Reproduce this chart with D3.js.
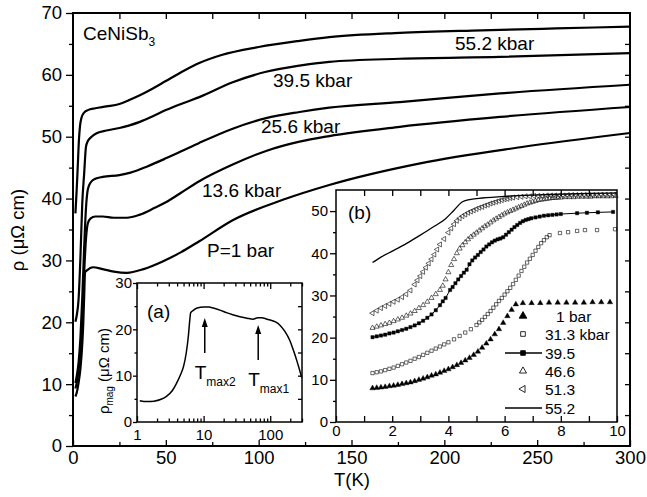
<!DOCTYPE html>
<html>
<head>
<meta charset="utf-8">
<script src="https://cdn.jsdelivr.net/npm/d3@7"></script>
<style>
body { margin: 0; background: #fff; }
.ax path.domain { display: none; }
.ax line { stroke: #000; stroke-width: 1.3; }
</style>
</head>
<body>
<div class="chart"></div>
<script>
const FONT = "'Liberation Sans', Arial, Helvetica, sans-serif";

// main panel: rho(T) at different pressures, [T (K), rho (uOhm cm)]
const MAIN_1BAR = [[1.3,8.0],[2,8.6],[3,10.2],[4,12.5],[5,16.5],[5.5,19.6],[6,24],[6.5,28.1],[7.5,28.4],[10.8,28.9],[16,28.6],[22,28.2],[29,28.0],[38,28.6],[48,29.8],[58,31.3],[68,33.1],[86,36.5],[113,39.8],[138,42.2],[187,45.7],[241,48.3],[300,50.6]];
const MAIN_13_6 = [[1.3,9.3],[2,10.2],[3,12.2],[4,15.5],[5,21],[6,28],[7,33.5],[8,36],[9.5,36.8],[12,37.1],[16,37.1],[22,36.9],[29,36.9],[36,37.4],[44,38.5],[50,39.4],[58,40.9],[68,42.8],[86,45.5],[104,47.7],[122,49.2],[138,50.1],[176,51.6],[230,53.2],[300,54.8]];
const MAIN_25_6 = [[1.3,10.2],[2,11.3],[3,13.5],[4,17.5],[5,24],[6,32],[7,38.5],[8,41.5],[9.5,42.6],[12,43.2],[16,43.5],[25,43.8],[31,44.2],[40,45.2],[50,46.5],[58,47.6],[68,49],[86,51.3],[104,53],[122,54],[138,54.7],[176,55.6],[230,57],[300,58.4]];
const MAIN_39_5 = [[1.3,20.1],[2,21.1],[3,23.7],[4,30.5],[5,39.3],[6,44],[7,48.4],[8,49.3],[10,50.0],[13,50.6],[18,51.0],[25,51.4],[30,51.8],[36,52.4],[43,53.3],[50,54.3],[60,55.5],[68,56.4],[86,58.8],[104,60.5],[122,61.5],[138,62.1],[176,62.6],[230,62.9],[300,63.5]];
const MAIN_55_2 = [[1.3,37.6],[2,41.5],[2.6,45.5],[3.2,49.5],[3.8,51.8],[4.5,53.0],[6,53.9],[8,54.3],[12,54.6],[18,54.9],[25,55.3],[30,55.9],[36,56.7],[43,57.8],[50,59.0],[60,60.7],[68,61.9],[80,63.2],[100,64.5],[122,65.5],[138,66.1],[176,66.8],[220,67.2],[260,67.5],[300,67.8]];
const MAIN_X_TICKS = [0, 50, 100, 150, 200, 250, 300];
const MAIN_Y_TICKS = [0, 10, 20, 30, 40, 50, 60, 70];

// inset (a): rho_mag vs log T
const INSET_A = [[1.1,4.6],[1.4,4.4],[1.8,4.5],[2.3,4.9],[2.8,5.6],[3.4,6.8],[3.9,8.3],[4.5,10.2],[5.0,12.0],[5.5,15.0],[5.9,18.5],[6.2,22.0],[6.4,23.6],[7.0,24.1],[8.0,24.6],[10,24.8],[12,24.8],[14,24.6],[18,24.1],[22,23.6],[28,23.1],[35,22.7],[45,22.4],[55,22.2],[65,22.5],[75,22.5],[85,22.3],[100,22.0],[120,21.6],[140,20.9],[165,19.6],[197,17.6],[225,15.3],[250,13.3],[275,11.3],[297,9.6]];
const A_X_TICKS = [1, 10, 100];
const A_Y_TICKS = [0, 10, 20, 30];

// inset (b): low-T data
const B_1BAR = [[1.30,8.0],[1.45,8.1],[1.60,8.2],[1.75,8.3],[1.90,8.5],[2.05,8.6],[2.20,8.8],[2.35,9.0],[2.50,9.2],[2.65,9.4],[2.80,9.7],[2.95,10.0],[3.10,10.3],[3.25,10.6],[3.40,11.0],[3.55,11.3],[3.70,11.7],[3.85,12.1],[4.00,12.5],[4.15,13.0],[4.30,13.5],[4.45,14.0],[4.60,14.6],[4.75,15.2],[4.90,15.9],[5.05,16.7],[5.20,17.6],[5.35,18.6],[5.50,19.6],[5.65,20.8],[5.80,22.0],[5.95,23.5],[6.10,25.1],[6.25,26.6],[6.40,27.9],[6.65,28.2],[6.96,28.2],[7.27,28.2],[7.58,28.3],[7.89,28.3],[8.20,28.3],[8.51,28.3],[8.82,28.3],[9.13,28.4],[9.44,28.4],[9.75,28.4]];
const B_31_3 = [[1.30,11.6],[1.45,11.8],[1.60,12.0],[1.75,12.3],[1.90,12.6],[2.05,12.9],[2.20,13.3],[2.35,13.7],[2.50,14.1],[2.65,14.5],[2.80,15.0],[2.95,15.4],[3.10,15.9],[3.25,16.4],[3.40,16.9],[3.55,17.4],[3.70,17.9],[3.85,18.4],[4.00,18.9],[4.20,19.6],[4.40,20.4],[4.60,21.2],[4.80,22.0],[5.00,23.0],[5.10,23.6],[5.20,24.2],[5.30,24.9],[5.40,25.6],[5.50,26.3],[5.60,27.1],[5.70,27.9],[5.80,28.7],[5.90,29.4],[6.00,30.2],[6.10,31.0],[6.20,31.8],[6.30,32.7],[6.40,33.7],[6.50,34.7],[6.60,35.8],[6.70,36.8],[6.80,37.8],[6.90,38.7],[7.00,39.6],[7.10,40.6],[7.20,41.5],[7.30,42.4],[7.40,43.1],[7.50,43.8],[7.60,44.3],[7.97,44.8],[8.26,45.0],[8.58,45.3],[8.86,45.5],[9.29,45.5],[9.93,45.7]];
const B_39_5 = [[1.30,20.1],[1.45,20.3],[1.60,20.5],[1.75,20.7],[1.90,21.0],[2.05,21.2],[2.20,21.5],[2.35,21.8],[2.50,22.1],[2.65,22.5],[2.80,22.9],[2.95,23.4],[3.10,24.0],[3.25,24.7],[3.40,25.5],[3.55,26.5],[3.70,27.7],[3.80,28.6],[3.90,29.4],[4.06,31.3],[4.15,32.0],[4.25,32.9],[4.35,33.8],[4.45,34.6],[4.55,35.4],[4.65,36.1],[4.75,37.4],[4.85,38.3],[4.95,39.0],[5.05,39.6],[5.15,40.3],[5.25,40.9],[5.35,41.6],[5.45,42.1],[5.55,42.6],[5.65,43.0],[5.75,43.3],[5.85,43.5],[5.95,43.8],[6.05,44.4],[6.15,45.0],[6.25,45.6],[6.35,46.2],[6.45,46.7],[6.55,47.2],[6.65,47.6],[6.75,47.9],[6.85,48.1],[6.95,48.3],[7.10,48.5],[7.25,48.7],[7.40,48.9],[7.55,49.0],[7.70,49.1],[7.85,49.2],[8.00,49.3],[8.58,49.5],[8.93,49.6],[9.32,49.7],[9.86,49.8]];
const B_46_6 = [[1.30,22.3],[1.45,22.6],[1.60,22.9],[1.75,23.2],[1.90,23.5],[2.05,23.9],[2.20,24.3],[2.35,24.7],[2.50,25.2],[2.65,25.7],[2.80,26.3],[2.95,27.0],[3.10,27.7],[3.25,28.5],[3.40,29.4],[3.55,30.3],[3.70,31.3],[3.80,32.3],[3.90,33.8],[4.00,35.5],[4.10,37.2],[4.20,38.6],[4.30,40.0],[4.40,41.1],[4.50,41.9],[4.60,42.6],[4.70,43.3],[4.80,43.9],[4.90,44.4],[5.00,44.9],[5.10,45.4],[5.20,45.9],[5.30,46.4],[5.40,46.8],[5.50,47.3],[5.60,47.8],[5.70,48.2],[5.80,48.6],[5.90,49.0],[6.00,49.4],[6.10,49.7],[6.20,50.0],[6.30,50.3],[6.40,50.6],[6.50,50.9],[6.60,51.2],[6.70,51.5],[6.80,51.8],[6.90,52.0],[7.00,52.2],[7.10,52.4],[7.20,52.6],[7.30,52.7],[7.40,52.8],[7.50,52.9],[7.60,53.0],[7.70,53.1],[7.80,53.1],[7.90,53.2],[8.00,53.2],[8.15,53.3],[8.30,53.3],[8.45,53.3],[8.60,53.4],[8.75,53.4],[8.90,53.4],[9.05,53.4],[9.20,53.5],[9.35,53.5],[9.50,53.5],[9.65,53.5],[9.80,53.5],[9.95,53.6]];
const B_51_3 = [[1.30,25.8],[1.45,26.4],[1.60,27.0],[1.75,27.5],[1.90,28.0],[2.05,28.5],[2.20,29.0],[2.35,29.6],[2.50,30.3],[2.65,31.2],[2.80,32.6],[2.90,33.6],[3.00,34.6],[3.10,35.6],[3.20,36.6],[3.30,37.6],[3.40,38.6],[3.50,39.7],[3.60,40.9],[3.70,42.1],[3.85,43.4],[4.00,44.9],[4.10,45.9],[4.20,46.9],[4.30,47.7],[4.40,48.3],[4.50,48.8],[4.60,49.2],[4.70,49.6],[4.80,49.9],[4.90,50.2],[5.00,50.5],[5.10,50.8],[5.20,51.0],[5.30,51.3],[5.40,51.5],[5.50,51.8],[5.60,52.0],[5.70,52.2],[5.80,52.4],[5.90,52.6],[6.00,52.8],[6.10,52.9],[6.20,53.1],[6.30,53.2],[6.45,53.3],[6.60,53.4],[6.75,53.5],[6.90,53.5],[7.05,53.6],[7.20,53.6],[7.35,53.6],[7.50,53.7],[7.65,53.7],[7.80,53.7],[7.95,53.7],[8.10,53.7],[8.25,53.8],[8.40,53.8],[8.55,53.8],[8.70,53.8],[8.85,53.8],[9.00,53.8],[9.15,53.8],[9.30,53.8],[9.45,53.9],[9.60,53.9],[9.75,53.9],[9.90,53.9]];
const B_55_2 = [[1.3,37.8],[1.6,39.1],[2.0,40.5],[2.5,42.3],[3.0,44.3],[3.5,46.4],[3.9,48.2],[4.2,50.2],[4.5,52.2],[4.8,52.8],[5.2,53.1],[6,53.5],[7,53.8],[8,54.0],[9,54.2],[10,54.3]];
const B_X_TICKS = [0, 2, 4, 6, 8, 10];
const B_Y_TICKS = [0, 10, 20, 30, 40, 50];
const B_LEGEND = ["1 bar", "31.3 kbar", "39.5", "46.6", "51.3", "55.2"];

const svg = d3.select(".chart").append("svg")
    .attr("width", 647).attr("height", 497)
    .style("font-family", FONT);

// scales
const X = d3.scaleLinear().domain([0, 300]).range([73, 630]);
const Y = d3.scaleLinear().domain([0, 70]).range([446, 13]);
const XA = d3.scaleLog().domain([1, 300]).range([137, 302]);
const YA = d3.scaleLinear().domain([0, 30]).range([422, 283]);
const XB = d3.scaleLinear().domain([0, 10]).range([336, 617]);
const YB = d3.scaleLinear().domain([0, 55]).range([422, 190]);

function axis(gen, scale, vals, size, pad, fmt, tr, fs) {
    const a = gen(scale).tickValues(vals).tickSize(size).tickSizeOuter(0).tickPadding(pad)
        .tickFormat(fmt || (() => ""));
    const g = svg.append("g").attr("class", "ax").attr("transform", tr).call(a);
    g.attr("font-family", FONT).attr("font-size", fs || 10);
    g.selectAll("text").attr("fill", "#000");
    return g;
}

// ---- main panel ----
const mainLine = d3.line().x(d => X(d[0])).y(d => Y(d[1])).curve(d3.curveMonotoneX);
[MAIN_1BAR, MAIN_13_6, MAIN_25_6, MAIN_39_5, MAIN_55_2].forEach(s => {
    svg.append("path").datum(s).attr("d", mainLine)
        .attr("fill", "none").attr("stroke", "#000").attr("stroke-width", 2.2);
});

svg.append("rect").attr("x", 73).attr("y", 13).attr("width", 557).attr("height", 433)
    .attr("fill", "none").attr("stroke", "#000").attr("stroke-width", 2);

axis(d3.axisBottom, X, MAIN_X_TICKS, -6, 5, d3.format("d"), "translate(0,446)", 18.5);
axis(d3.axisBottom, X, d3.range(25, 300, 50), -4, 0, null, "translate(0,446)");
axis(d3.axisTop, X, d3.range(25, 300, 25), -6, 0, null, "translate(0,13)");
axis(d3.axisLeft, Y, MAIN_Y_TICKS, 7, 4, d3.format("d"), "translate(73,0)", 18.5);
axis(d3.axisLeft, Y, d3.range(5, 70, 10), 4, 0, null, "translate(73,0)");
axis(d3.axisRight, Y, d3.range(5, 70, 5), -5, 0, null, "translate(630,0)");

svg.append("text").attr("x", 352).attr("y", 486).attr("text-anchor", "middle")
    .attr("font-size", 18.5).text("T(K)");
svg.append("text").attr("transform", "translate(24,230) rotate(-90)").attr("text-anchor", "middle")
    .attr("font-size", 18.5).text("ρ (μΩ cm)");

const cen = svg.append("text").attr("x", 83).attr("y", 40).attr("font-size", 19);
cen.append("tspan").text("CeNiSb");
cen.append("tspan").attr("font-size", 12).attr("dy", 6).text("3");

[["55.2 kbar", 455, 50], ["39.5 kbar", 273, 87], ["25.6 kbar", 261, 133],
 ["13.6 kbar", 202, 197], ["P=1 bar", 207, 257]].forEach(l => {
    svg.append("text").attr("x", l[1]).attr("y", l[2]).attr("font-size", 19).text(l[0]);
});

// ---- inset (a) ----
svg.append("rect").attr("x", 137).attr("y", 283).attr("width", 165).attr("height", 139)
    .attr("fill", "#fff").attr("stroke", "#000").attr("stroke-width", 1.5);
svg.append("path").datum(INSET_A)
    .attr("d", d3.line().x(d => XA(d[0])).y(d => YA(d[1])).curve(d3.curveMonotoneX))
    .attr("fill", "none").attr("stroke", "#000").attr("stroke-width", 1.5);

const aMinor = [2,3,4,5,6,7,8,9,20,30,40,50,60,70,80,90,200,300];
axis(d3.axisBottom, XA, A_X_TICKS, -6, 7, d3.format("d"), "translate(0,422)", 15);
axis(d3.axisBottom, XA, aMinor, -3.5, 0, null, "translate(0,422)");
axis(d3.axisTop, XA, A_X_TICKS, -6, 0, null, "translate(0,283)");
axis(d3.axisTop, XA, aMinor, -3.5, 0, null, "translate(0,283)");
axis(d3.axisLeft, YA, A_Y_TICKS, 4, 1, d3.format("d"), "translate(137,0)", 15);
axis(d3.axisLeft, YA, [5, 15, 25], 2.5, 0, null, "translate(137,0)");
axis(d3.axisRight, YA, [5, 10, 15, 20, 25], -4, 0, null, "translate(302,0)");

svg.append("text").attr("x", 147).attr("y", 318).attr("font-size", 19).text("(a)");
const al = svg.append("text").attr("transform", "translate(109,371) rotate(-90)")
    .attr("text-anchor", "middle").attr("font-size", 15);
al.append("tspan").text("ρ");
al.append("tspan").attr("font-size", 10).attr("dy", 4).text("mag");
al.append("tspan").attr("dy", -4).text(" (μΩ cm)");

[[10.4, 353, 318, "max2", 10], [66, 360, 325, "max1", 10]].forEach(a => {
    const x = XA(a[0]);
    svg.append("line").attr("x1", x).attr("x2", x).attr("y1", a[1]).attr("y2", a[2] + 6)
        .attr("stroke", "#000").attr("stroke-width", 1.5);
    svg.append("path").attr("d", `M${x},${a[2]}L${x - 3},${a[2] + 9}L${x + 3},${a[2] + 9}Z`).attr("fill", "#000");
    const t = svg.append("text").attr("x", x - a[4]).attr("y", a[1] + 26).attr("font-size", 19);
    t.append("tspan").text("T");
    t.append("tspan").attr("font-size", 12).attr("dy", 7).text(a[3]);
});

// ---- inset (b) ----
svg.append("rect").attr("x", 336).attr("y", 190).attr("width", 281).attr("height", 232)
    .attr("fill", "#fff").attr("stroke", "#000").attr("stroke-width", 1.5);

const bx = d => XB(d[0]), by = d => YB(d[1]);
svg.append("path").datum(B_55_2)
    .attr("d", d3.line().x(bx).y(by).curve(d3.curveMonotoneX))
    .attr("fill", "none").attr("stroke", "#000").attr("stroke-width", 1.3);
svg.append("path").datum(B_39_5).attr("d", d3.line().x(bx).y(by))
    .attr("fill", "none").attr("stroke", "#000").attr("stroke-width", 1);

const sym = {
    tri: d3.symbol().type(d3.symbolTriangle).size(13)(),
    sq: d3.symbol().type(d3.symbolSquare).size(11)(),
    tri2: d3.symbol().type(d3.symbolTriangle).size(11)()
};
function markers(data, path, filled, rot) {
    svg.append("g").selectAll("path").data(data).enter().append("path")
        .attr("d", path)
        .attr("transform", d => `translate(${bx(d)},${by(d)}) rotate(${rot})`)
        .attr("fill", filled ? "#000" : "none")
        .attr("stroke", "#000").attr("stroke-width", filled ? 0.4 : 0.6);
}
markers(B_1BAR, sym.tri, true, 0);
markers(B_31_3, sym.sq, false, 0);
markers(B_39_5, sym.sq, true, 0);
markers(B_46_6, sym.tri2, false, 0);
markers(B_51_3, sym.tri2, false, -90);

axis(d3.axisBottom, XB, d3.range(0, 11), -6, 3.5, d => (d % 2 === 0 ? d : ""), "translate(0,422)", 15);
axis(d3.axisTop, XB, d3.range(1, 10), -6, 0, null, "translate(0,190)");
axis(d3.axisLeft, YB, B_Y_TICKS, 6, 2, d3.format("d"), "translate(336,0)", 15);
axis(d3.axisLeft, YB, [5, 15, 25, 35, 45], 3, 0, null, "translate(336,0)");

svg.append("text").attr("x", 348).attr("y", 219).attr("font-size", 19).text("(b)");

// legend
const legY = [316, 334, 353, 371, 389, 408];
const legSym = [[sym.tri, true, 0], [sym.sq, false, 0], [sym.sq, true, 0],
                [sym.tri2, false, 0], [sym.tri2, false, -90], null];
B_LEGEND.forEach((name, i) => {
    const cy = legY[i];
    if (i === 2 || i === 5) {
        svg.append("line").attr("x1", 505).attr("x2", 542).attr("y1", cy).attr("y2", cy)
            .attr("stroke", "#000").attr("stroke-width", 1.3);
    }
    const s = legSym[i];
    if (s) {
        svg.append("path").attr("d", s[0])
            .attr("transform", `translate(523,${cy}) rotate(${s[2]}) scale(1.4)`)
            .attr("fill", s[1] ? "#000" : "none").attr("stroke", "#000").attr("stroke-width", 0.6);
    }
    svg.append("text").attr("x", i === 0 ? 556 : 545).attr("y", cy).attr("dy", "0.36em")
        .attr("font-size", 15.5).text(name);
});
</script>
</body>
</html>
